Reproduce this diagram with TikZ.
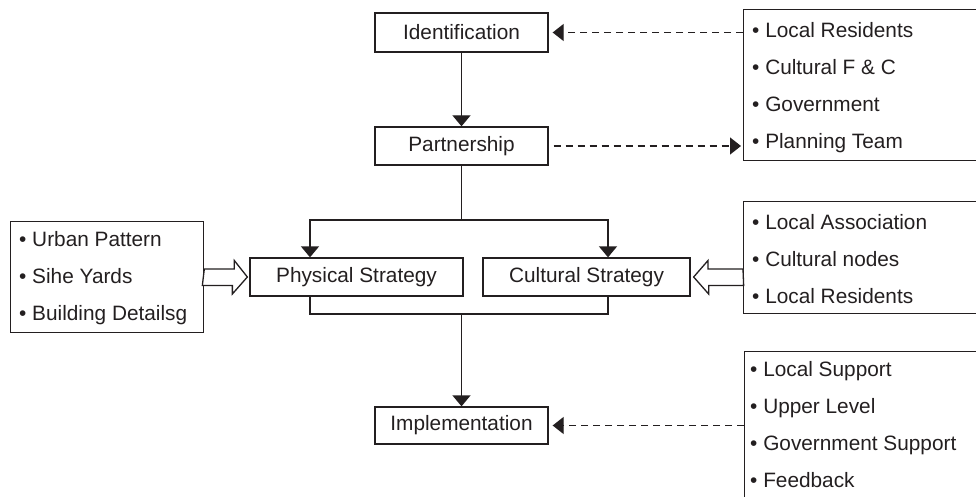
\documentclass[tikz,border=0pt]{standalone}
\usepackage{fontspec}
\setmainfont{Liberation Sans}
\usetikzlibrary{arrows.meta}
\definecolor{ink}{HTML}{231F20}
\begin{document}
\begin{tikzpicture}[x=1pt,y=-1pt,
  box/.style={draw=ink, line width=1.3pt, inner sep=0pt, font=\fontsize{20.8}{25}\selectfont, text=ink},
  lst/.style={align=left, inner sep=0pt, font=\fontsize{20.8}{37}\selectfont, text=ink, anchor=west},
  frame/.style={draw=ink, line width=1.3pt, inner sep=0pt, anchor=north west},
  conn/.style={draw=ink, line width=1.3pt},
  solidarr/.style={conn, -{Triangle[width=18pt,length=11pt]}},
  dasharr/.style={conn, dash pattern=on 7pt off 5pt, -{Triangle[width=17pt,length=11pt]}},
  hollow/.style={draw=ink, line width=1.3pt, fill=white, line join=miter}
]
\useasboundingbox (0,0) rectangle (976,497);

% main boxes
\node[box, minimum width=173pt, minimum height=39pt] (ident) at (461.5,32.5) {Identification};
\node[box, minimum width=173pt, minimum height=38pt] (part) at (461.5,146) {Partnership};
\node[box, minimum width=213pt, minimum height=38pt] (phys) at (356.5,277) {Physical Strategy};
\node[box, minimum width=207pt, minimum height=38pt] (cult) at (586.5,277) {Cultural Strategy};
\node[box, minimum width=173pt, minimum height=37pt] (impl) at (461.5,425.5) {Implementation};

% list frames
\node[frame, minimum width=250pt, minimum height=151pt] (r1) at (743,9) {};
\node[frame, minimum width=250pt, minimum height=112pt] (r2) at (743,201) {};
\node[frame, minimum width=250pt, minimum height=170pt] (r3) at (744,351) {};
\node[frame, minimum width=193pt, minimum height=111pt] (l1) at (10,221) {};

% list texts
\node[lst] (t1) at ([xshift=9pt,yshift=-2pt]r1.west) {• Local Residents\\• Cultural F \& C\\• Government\\• Planning Team};
\node[lst] (t2) at ([xshift=9pt,yshift=-1pt]r2.west) {• Local Association\\• Cultural nodes\\• Local Residents};
\node[lst] (t3) at (750,425) {• Local Support\\• Upper Level\\• Government Support\\• Feedback};
\node[lst] (t4) at ([xshift=9pt,yshift=-1pt]l1.west) {• Urban Pattern\\• Sihe Yards\\• Building Detailsg};

% coordinates
\coordinate (split) at (461.5,220);
\coordinate (merge) at (461.5,314);
\coordinate (pin) at (310,0);
\coordinate (cin) at (608,0);

% connectors
\draw[solidarr] (ident.south) -- (part.north);
\draw[solidarr] (part.south) |- (pin |- split) -- (pin |- phys.north);
\draw[solidarr] (part.south) |- (cin |- split) -- (cin |- cult.north);
\draw[conn] (pin |- phys.south) |- (merge) -| (cin |- cult.south);
\draw[solidarr] (merge) -- (impl.north);

\draw[dasharr, shorten >=4pt] (r1.west |- ident.east) -- (ident.east);
\draw[dasharr, shorten <=5pt, shorten >=2pt] (part.east) -- (r1.west |- part.east);
\draw[dasharr, shorten >=4pt] (r3.west |- impl.east) -- (impl.east);

% hollow arrows
\draw[hollow] (l1.east |- phys.west) ++(0,-8) -- ++(30,0) -- ++(0,-8.5) -- ([xshift=-2pt]phys.west) -- ++(-15,17) -- ++(0,-8.5) -- ++(-30,0) -- cycle;
\draw[hollow] (r2.west |- cult.east) ++(0,-8) -- ++(-35,0) -- ++(0,-8.5) -- ([xshift=3pt]cult.east) -- ++(15,17) -- ++(0,-8.5) -- ++(35,0) -- cycle;
\end{tikzpicture}
\end{document}
